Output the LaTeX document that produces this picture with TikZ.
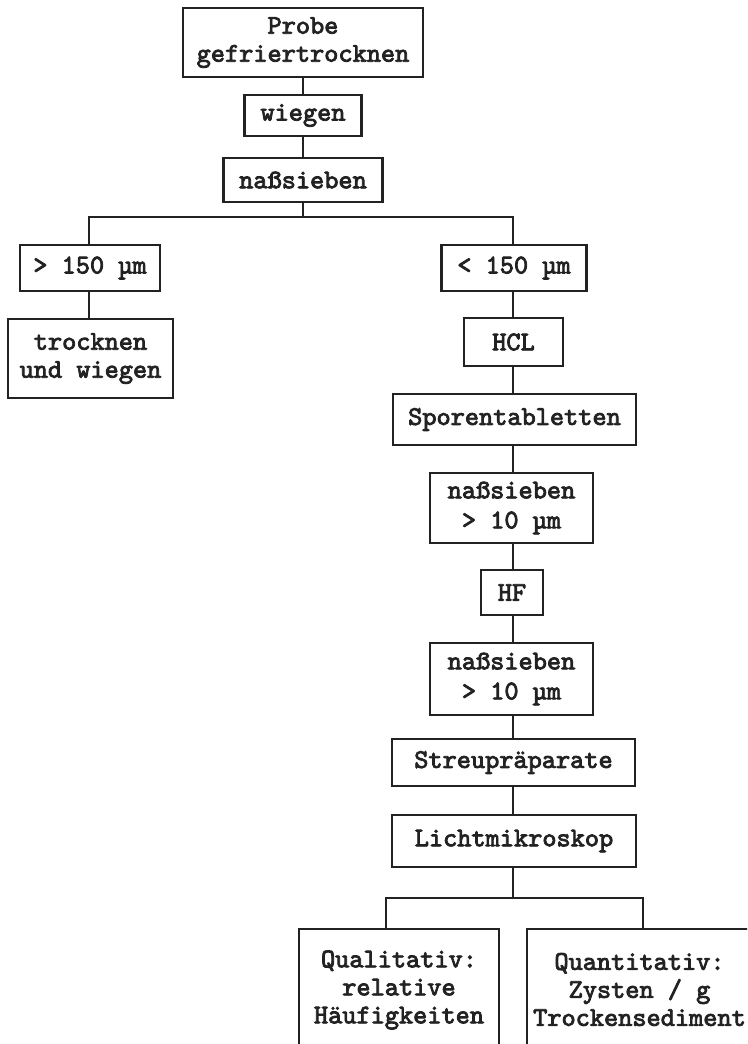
\documentclass[tikz,border=0pt]{standalone}
\usepackage{fontspec}
\newfontfamily\twfont{lmmono10-regular.otf}[FakeBold=3]
\definecolor{ink}{HTML}{222222}
\tikzset{
  stepbox/.style={draw=ink, line width=2.6pt, inner sep=0pt, align=center,
    font=\twfont\fontsize{27}{28}\selectfont, text=ink},
  twoline/.style={font=\twfont\fontsize{27}{30}\selectfont},
  link/.style={draw=ink, line width=2.6pt}
}
\begin{document}
\begin{tikzpicture}[x=1pt,y=-1pt]
\useasboundingbox (0,0) rectangle (747,1044);
\fill[white] (0,0) rectangle (747,1044);
\clip (0,0) rectangle (747,1044);
% boxes
\node[stepbox, minimum width=240pt, minimum height=69pt] (b1) at (303,42.5) {Probe\\gefriertrocknen};
\node[stepbox, minimum width=117pt, minimum height=41pt] (b2) at (303,115.5) {wiegen};
\node[stepbox, minimum width=159pt, minimum height=44pt] (b3) at (303,180) {naßsieben};
\node[stepbox, minimum width=140pt, minimum height=46pt] (b4) at (90,268) {> 150 µm};
\node[stepbox, minimum width=165pt, minimum height=79pt] (b5) at (90.5,358.5) {trocknen\\und wiegen};
\node[stepbox, minimum width=145pt, minimum height=46pt] (b6) at (514,268) {< 150 µm};
\node[stepbox, minimum width=99pt, minimum height=48pt] (b7) at (513.5,342) {HCL};
\node[stepbox, minimum width=243pt, minimum height=51pt] (b8) at (514.5,419.5) {Sporentabletten};
\node[stepbox, twoline, minimum width=163pt, minimum height=70pt] (b9) at (511.5,508) {naßsieben\\> 10 µm};
\node[stepbox, minimum width=62pt, minimum height=45pt] (b10) at (512,592.5) {HF};
\node[stepbox, twoline, minimum width=163pt, minimum height=72pt] (b11) at (511.5,679) {naßsieben\\> 10 µm};
\node[stepbox, minimum width=243pt, minimum height=47pt] (b12) at (513.5,762.5) {Streupräparate};
\node[stepbox, minimum width=244pt, minimum height=52pt] (b13) at (514,841) {Lichtmikroskop};
\node[stepbox, minimum width=200pt, minimum height=122pt] (b14) at (399,990) {Qualitativ:\\relative\\Häufigkeiten};
\node[stepbox, minimum width=225pt, minimum height=121pt] (b15) at (639.5,989.5) {Quantitativ:\\Zysten / g\\Trockensediment};
% branch points
\coordinate (s1) at (303,217);
\coordinate (l1) at (89,217);
\coordinate (r1) at (513,217);
\coordinate (s2) at (513,898);
\coordinate (l2) at (386,898);
\coordinate (r2) at (643,898);
% connectors
\draw[link] (b1.south) -- (b2.north);
\draw[link] (b2.south) -- (b3.north);
\draw[link] (b3.south) -- (s1);
\draw[link] (b4.north -| l1) -- (l1) -- (r1) -- (b6.north -| r1);
\draw[link] (b4.south -| l1) -- (b5.north -| l1);
\draw[link] (b6.south -| r1) -- (b7.north -| r1);
\draw[link] (b7.south -| r1) -- (b8.north -| r1);
\draw[link] (b8.south -| r1) -- (b9.north -| r1);
\draw[link] (b9.south -| r1) -- (b10.north -| r1);
\draw[link] (b10.south -| r1) -- (b11.north -| r1);
\draw[link] (b11.south -| r1) -- (b12.north -| r1);
\draw[link] (b12.south -| r1) -- (b13.north -| r1);
\draw[link] (b13.south -| s2) -- (s2);
\draw[link] (b14.north -| l2) -- (l2) -- (r2) -- (b15.north -| r2);
\end{tikzpicture}
\end{document}
